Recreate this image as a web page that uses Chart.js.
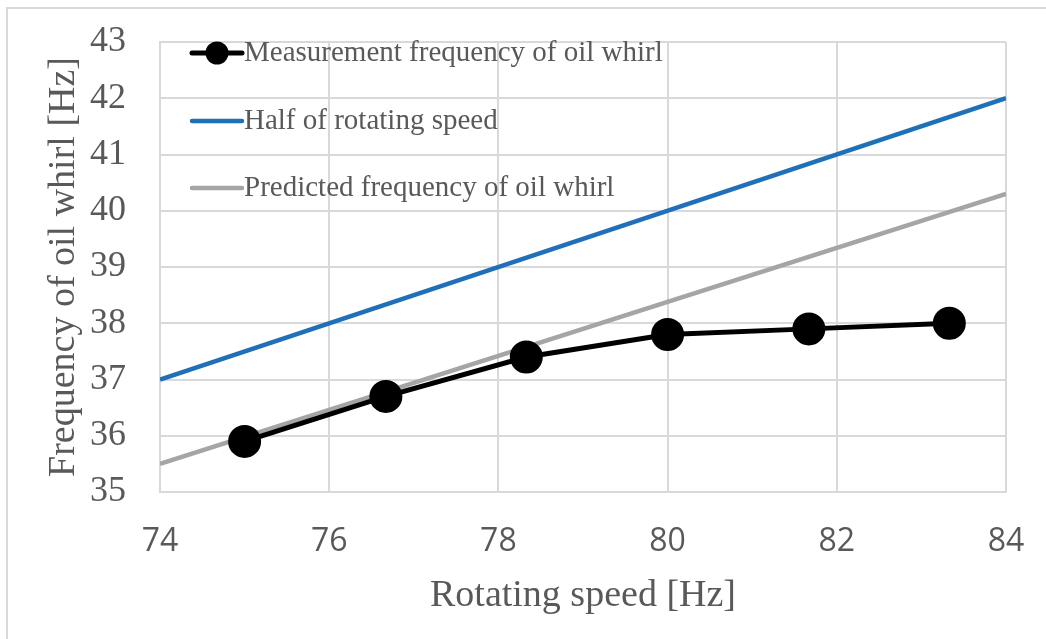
<!DOCTYPE html>
<html>
<head>
<meta charset="utf-8">
<script src="https://cdn.jsdelivr.net/npm/chart.js@4"></script>
<style>
  html, body { margin: 0; padding: 0; background: #fff; }
  #wrap { position: relative; width: 1046px; height: 639px; overflow: hidden; }
  #frame { position: absolute; left: 6px; top: 7px; width: 1100px; height: 700px; border: 2px solid #d9d9d9; box-sizing: border-box; }
  canvas { position: absolute; left: 0; top: 0; }
</style>
</head>
<body>
<div id="wrap">
  <div id="frame"></div>
  <canvas id="c" width="1046" height="639"></canvas>
</div>
<script>
const measuredSpeed = [75, 76.67, 78.33, 80, 81.67, 83.33];
const measuredFreq  = [35.9, 36.7, 37.4, 37.8, 37.9, 38.0];
const halfSpeedX = [74, 84];
const halfSpeedY = [37, 42];
const predictedX = [74, 84];
const predictedY = [35.5, 40.3];
const seriesNames = ["Measurement frequency of oil whirl", "Half of rotating speed", "Predicted frequency of oil whirl"];
const xTitle = "Rotating speed [Hz]";
const yTitle = "Frequency of oil whirl [Hz]";

const toPts = (xs, ys) => xs.map((x, i) => ({x: x, y: ys[i]}));

const TEXT = '#595959';
const GRID = '#d9d9d9';

const legendPlugin = {
  id: 'inLegend',
  afterDraw(chart) {
    const ctx = chart.ctx;
    const x0 = 192, x1 = 242, tx = 244;
    const ys = [53, 121, 188];
    ctx.save();
    chart.data.datasets.forEach((ds, i) => {
      const y = ys[i];
      ctx.strokeStyle = ds.borderColor;
      ctx.lineWidth = ds.borderWidth;
      ctx.lineCap = 'round';
      ctx.beginPath(); ctx.moveTo(x0, y); ctx.lineTo(x1, y); ctx.stroke();
      if (ds.pointRadius > 0) {
        ctx.fillStyle = ds.pointBackgroundColor;
        ctx.beginPath(); ctx.arc((x0 + x1) / 2, y, 11.5, 0, Math.PI * 2); ctx.fill();
      }
      ctx.fillStyle = TEXT;
      ctx.font = '29px "Liberation Serif"';
      ctx.textBaseline = 'middle';
      ctx.textAlign = 'left';
      ctx.fillText(ds.label, tx, y);
    });
    ctx.restore();
  }
};

new Chart(document.getElementById('c'), {
  type: 'scatter',
  data: {
    datasets: [
      {
        label: seriesNames[0],
        data: toPts(measuredSpeed, measuredFreq),
        showLine: true,
        borderColor: '#000000',
        backgroundColor: '#000000',
        pointBackgroundColor: '#000000',
        pointBorderColor: '#000000',
        borderWidth: 5,
        pointRadius: 14,
        pointHoverRadius: 14,
        tension: 0
      },
      {
        label: seriesNames[1],
        data: toPts(halfSpeedX, halfSpeedY),
        showLine: true,
        borderColor: '#1f70b8',
        backgroundColor: '#1f70b8',
        borderWidth: 4.5,
        pointRadius: 0,
        tension: 0
      },
      {
        label: seriesNames[2],
        data: toPts(predictedX, predictedY),
        showLine: true,
        borderColor: '#a5a5a5',
        backgroundColor: '#a5a5a5',
        borderWidth: 4.5,
        pointRadius: 0,
        tension: 0
      }
    ]
  },
  options: {
    responsive: false,
    animation: false,
    layout: { padding: { left: 0, top: 42, right: 40, bottom: 0 } },
    plugins: { legend: { display: false }, tooltip: { enabled: false } },
    scales: {
      x: {
        type: 'linear',
        min: 74, max: 84,
        ticks: { stepSize: 2, color: TEXT, font: { family: '"Open Sans"', size: 32 }, padding: 31, maxRotation: 0 },
        grid: { color: GRID, lineWidth: 2, drawTicks: false },
        border: { color: GRID, width: 2 },
        title: { display: true, text: xTitle, color: TEXT, font: { family: '"Liberation Serif"', size: 38 }, padding: { top: 0, bottom: 20 } },
        afterFit(s) { s.height = 147; s.paddingLeft = 0; s.paddingRight = 0; }
      },
      y: {
        type: 'linear',
        min: 35, max: 43,
        ticks: { stepSize: 1, color: TEXT, font: { family: '"Liberation Serif"', size: 36 }, padding: 34 },
        grid: { color: GRID, lineWidth: 2, drawTicks: false },
        border: { color: GRID, width: 2 },
        title: { display: true, text: yTitle, color: TEXT, font: { family: '"Liberation Serif"', size: 38 }, padding: { top: 41, bottom: 0 } },
        afterFit(s) { s.width = 160; s.paddingTop = 0; s.paddingBottom = 0; }
      }
    }
  },
  plugins: [legendPlugin]
});
</script>
</body>
</html>
